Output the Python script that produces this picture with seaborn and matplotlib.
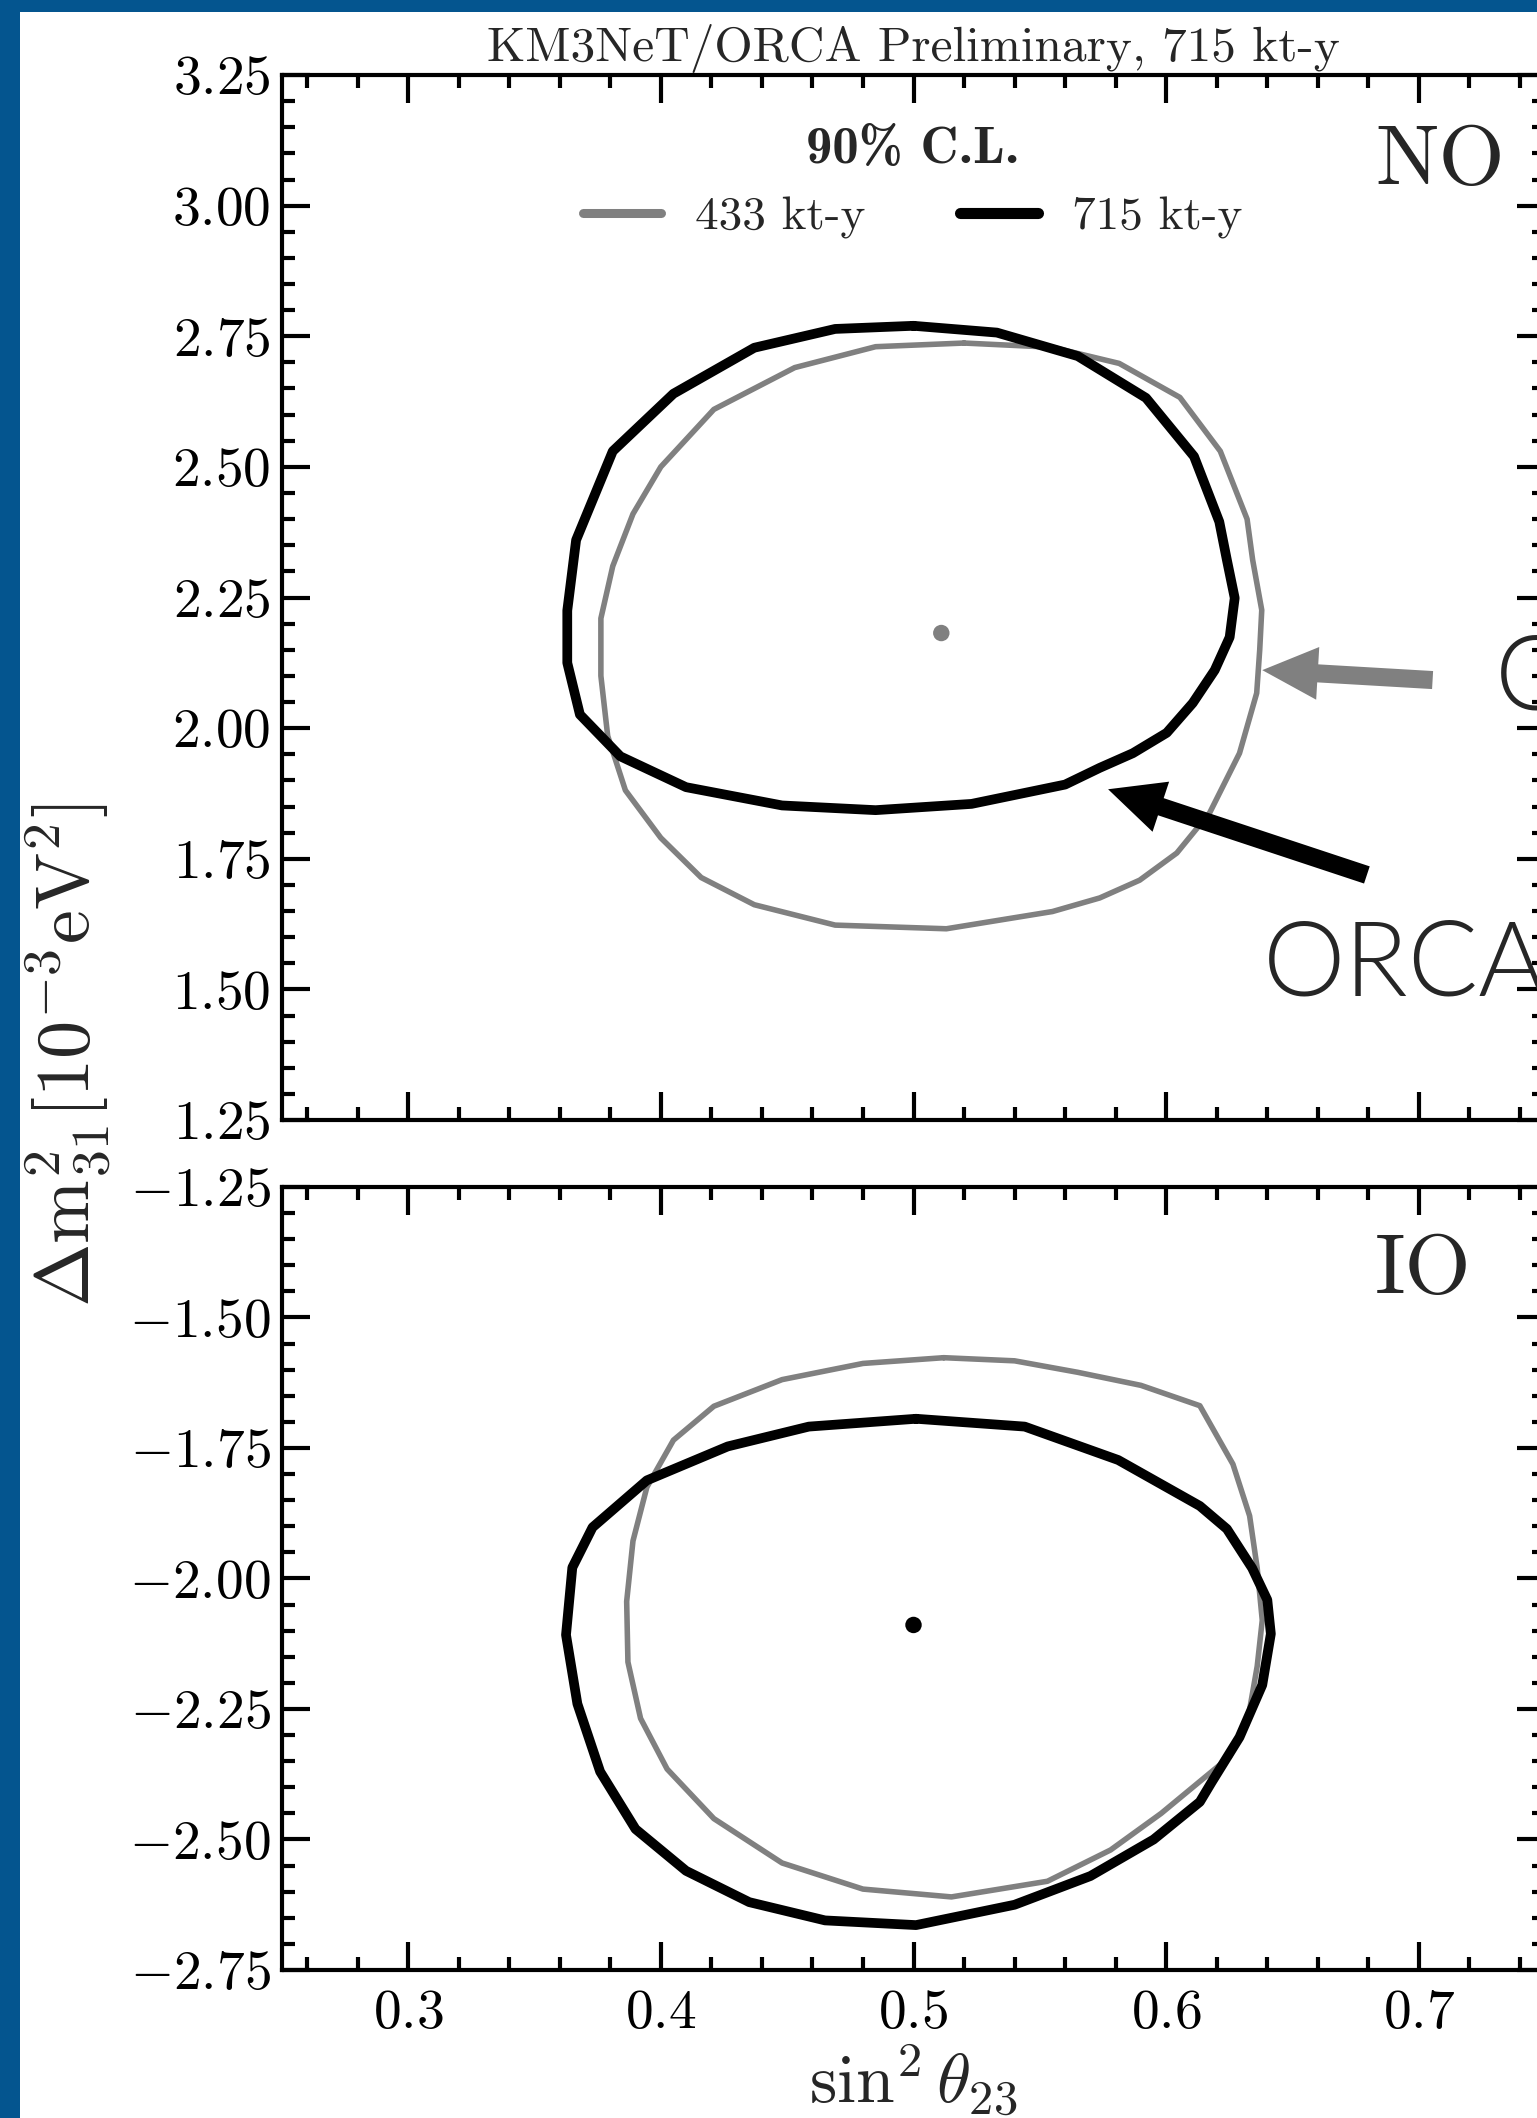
import matplotlib
matplotlib.use("Agg")
import matplotlib.pyplot as plt
import seaborn as sns
from matplotlib.lines import Line2D
from matplotlib.patches import Rectangle
from matplotlib.font_manager import FontProperties
from matplotlib.ticker import MultipleLocator, FuncFormatter

# ---------------------------------------------------------------- data
exposures = ["433 kt-y", "715 kt-y"]

# Normal ordering, 90% C.L. contours (sin^2 theta23, dm2_31 [1e-3 eV^2])
no_433_x = [0.520, 0.5547, 0.5814, 0.6054, 0.6214, 0.632, 0.6342, 0.6378, 0.6370, 0.6358,
            0.629, 0.6172, 0.6042, 0.5895, 0.5737, 0.555, 0.513, 0.469, 0.437, 0.416,
            0.400, 0.386, 0.379, 0.3763, 0.3763, 0.381, 0.389, 0.400, 0.421, 0.453,
            0.485, 0.520]
no_433_y = [2.737, 2.729, 2.698, 2.633, 2.530, 2.400, 2.322, 2.226, 2.150, 2.067,
            1.952, 1.838, 1.761, 1.709, 1.675, 1.649, 1.616, 1.623, 1.662, 1.714,
            1.790, 1.881, 1.985, 2.100, 2.210, 2.310, 2.410, 2.500, 2.610, 2.690,
            2.730, 2.737]

no_715_x = [0.500, 0.533, 0.565, 0.592, 0.611, 0.621, 0.624, 0.6271, 0.6251, 0.6192,
            0.6105, 0.6002, 0.5868, 0.5737, 0.560, 0.523, 0.485, 0.448, 0.410, 0.384,
            0.368, 0.363, 0.363, 0.3665, 0.381, 0.405, 0.437, 0.469, 0.500]
no_715_y = [2.770, 2.757, 2.712, 2.632, 2.520, 2.395, 2.322, 2.249, 2.174, 2.111,
            2.048, 1.991, 1.952, 1.924, 1.892, 1.855, 1.843, 1.852, 1.887, 1.946,
            2.026, 2.125, 2.225, 2.360, 2.530, 2.640, 2.728, 2.764, 2.770]

# Inverted ordering, 90% C.L. contours
io_433_x = [0.512, 0.540, 0.565, 0.590, 0.6133, 0.6264, 0.633, 0.636, 0.638, 0.636,
            0.632, 0.625, 0.613, 0.598, 0.578, 0.553, 0.515, 0.480, 0.448, 0.421,
            0.4025, 0.392, 0.387, 0.3865, 0.389, 0.3945, 0.405, 0.421, 0.448, 0.480,
            0.512]
io_433_y = [-1.577, -1.583, -1.605, -1.630, -1.669, -1.781, -1.880, -1.980, -2.080, -2.168,
            -2.279, -2.342, -2.390, -2.450, -2.520, -2.580, -2.610, -2.595, -2.545, -2.460,
            -2.365, -2.268, -2.160, -2.044, -1.928, -1.825, -1.735, -1.670, -1.619, -1.588,
            -1.577]

io_715_x = [0.501, 0.544, 0.581, 0.6133, 0.624, 0.634, 0.640, 0.6414, 0.638, 0.629,
            0.618, 0.6133, 0.595, 0.570, 0.540, 0.501, 0.465, 0.435, 0.410, 0.390,
            0.376, 0.367, 0.3625, 0.365, 0.373, 0.3945, 0.4265, 0.4586, 0.501]
io_715_y = [-1.694, -1.709, -1.773, -1.861, -1.905, -1.980, -2.041, -2.106, -2.204, -2.304,
            -2.390, -2.428, -2.500, -2.570, -2.625, -2.664, -2.655, -2.620, -2.560, -2.480,
            -2.370, -2.240, -2.108, -1.979, -1.902, -1.812, -1.747, -1.709, -1.694]

# best-fit points
no_best = (0.511, 2.182)
io_best = (0.500, -2.089)

# ---------------------------------------------------------------- style
GRAY = "#808080"
BLUE = "#04558f"
W, H = 1537, 2118

sns.set_style("ticks")
plt.rcParams.update({
    "font.family": "serif",
    "font.serif": ["cmr10"],
    "mathtext.fontset": "cm",
    "axes.unicode_minus": False,
    "axes.formatter.use_mathtext": True,
})

fig = plt.figure(figsize=(W / 100, H / 100), dpi=100, facecolor="white")


def px_rect(left, top, right, bottom):
    return [left / W, 1 - bottom / H, (right - left) / W, (bottom - top) / H]


def fx(x):
    return x / W


def fy(y):
    return 1 - y / H


ax_no = fig.add_axes(px_rect(281.7, 75, 1545.3, 1120))
ax_io = fig.add_axes(px_rect(281.7, 1187, 1545.3, 1970))

for ax, (x4, y4, x7, y7), best, best_col in [
    (ax_no, (no_433_x, no_433_y, no_715_x, no_715_y), no_best, GRAY),
    (ax_io, (io_433_x, io_433_y, io_715_x, io_715_y), io_best, "black"),
]:
    sns.lineplot(x=x4, y=y4, sort=False, estimator=None, color=GRAY,
                 linewidth=4.0, ax=ax, legend=False)
    sns.lineplot(x=x7, y=y7, sort=False, estimator=None, color="black",
                 linewidth=7.0, ax=ax, legend=False)
    sns.scatterplot(x=[best[0]], y=[best[1]], color=best_col, s=140,
                    edgecolor="none", ax=ax, zorder=5, legend=False)

    ax.set_xlim(0.25, 0.75)
    ax.xaxis.set_major_locator(MultipleLocator(0.1))
    ax.xaxis.set_minor_locator(MultipleLocator(0.02))
    ax.yaxis.set_major_locator(MultipleLocator(0.25))
    ax.yaxis.set_minor_locator(MultipleLocator(0.05))
    ax.xaxis.set_major_formatter(FuncFormatter(lambda v, p: f"${v:.1f}$"))
    ax.yaxis.set_major_formatter(FuncFormatter(lambda v, p: f"${v:.2f}$"))
    ax.tick_params(which="both", direction="in", top=True, right=True,
                   width=3, colors="black")
    ax.tick_params(which="major", length=20)
    ax.tick_params(which="minor", length=9.5)
    ax.tick_params(axis="y", labelsize=40, pad=8)
    ax.tick_params(axis="x", labelsize=40, pad=14)
    for s in ax.spines.values():
        s.set_linewidth(3)
        s.set_color("black")
    ax.set_xlabel("")
    ax.set_ylabel("")

ax_no.set_ylim(1.25, 3.25)
ax_io.set_ylim(-2.75, -1.25)
ax_no.tick_params(axis="x", labelbottom=False)

# legend
handles = [Line2D([], [], color=GRAY, lw=6.5), Line2D([], [], color="black", lw=8)]
ax_no.legend(handles, exposures, title="90% C.L.", ncol=2,
             frameon=False, loc="upper center",
             bbox_to_anchor=(fx(913), fy(115)), bbox_transform=fig.transFigure,
             fontsize=34, title_fontproperties=FontProperties(family="cmb10", size=38),
             handlelength=1.65, handletextpad=0.72, columnspacing=2.0,
             borderpad=0.25, borderaxespad=0)

# panel tags
fig.text(fx(1375), fy(184), "NO", fontsize=61, ha="left", va="baseline")
fig.text(fx(1375), fy(1293), "IO", fontsize=61, ha="left", va="baseline")

# title and axis labels
fig.text(fx(913), fy(61), "KM3NeT/ORCA Preliminary, 715 kt-y",
         ha="center", va="baseline", fontsize=35.5)
fig.text(fx(913), fy(2103), r"$\sin^2\theta_{23}$", ha="center",
         va="baseline", fontsize=50)
fig.text(fx(68), fy(1055), r"$\Delta\mathrm{m}^2_{31}[10^{-3}\mathrm{eV}^2]$",
         rotation=90, ha="center", va="center", fontsize=55)

# arrows pointing at the two NO contours
gray_arrow_tail, gray_arrow_tip = (0.7054, 2.092), (0.638, 2.111)
black_arrow_tail, black_arrow_tip = (0.6794, 1.719), (0.577, 1.883)
for tail, tip, col in [(gray_arrow_tail, gray_arrow_tip, GRAY),
                       (black_arrow_tail, black_arrow_tip, "black")]:
    ax_no.annotate("", xy=tip, xytext=tail, annotation_clip=False,
                   arrowprops=dict(arrowstyle="simple,head_length=4.0,head_width=3.8,tail_width=1.3",
                                   mutation_scale=10, facecolor=col,
                                   edgecolor="none", linewidth=0,
                                   shrinkA=0, shrinkB=0))

fig.text(fx(1495), fy(710), "O", fontsize=75, family="Lato",
         weight=300, ha="left", va="baseline")
fig.text(fx(1263), fy(995), "ORCA", fontsize=75, family="Lato",
         weight=300, ha="left", va="baseline")

# slide frame
fig.add_artist(Rectangle((0, 0), 20 / W, 1, transform=fig.transFigure,
                         facecolor=BLUE, edgecolor="none", zorder=20))
fig.add_artist(Rectangle((0, 1 - 12 / H), 1, 12 / H, transform=fig.transFigure,
                         facecolor=BLUE, edgecolor="none", zorder=20))

fig.savefig("out.png", dpi=100, facecolor="white")
